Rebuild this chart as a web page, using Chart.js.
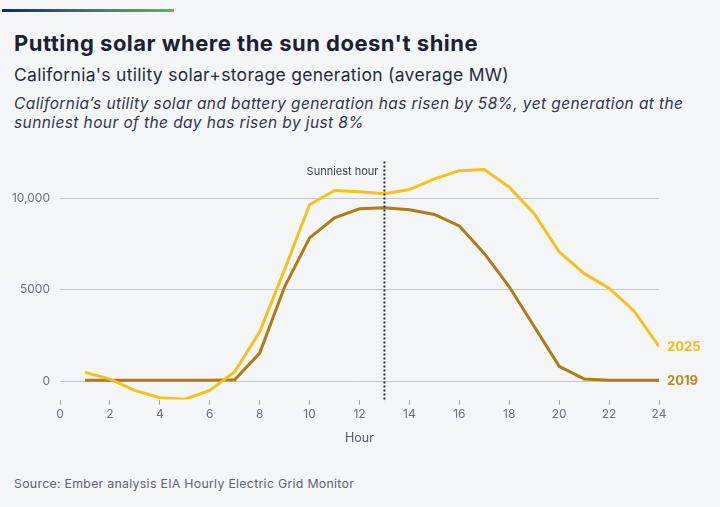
<!DOCTYPE html>
<html>
<head>
<meta charset="utf-8">
<script src="https://cdn.jsdelivr.net/npm/chart.js@4"></script>
<style>
  html, body { margin: 0; padding: 0; }
  body {
    width: 720px; height: 507px; overflow: hidden; position: relative;
    background: #f4f5f8; font-family: Inter, "Open Sans", sans-serif; color: #1c2132;
  }
  .topbar {
    position: absolute; left: 2px; top: 9px; width: 172px; height: 3px;
    background: linear-gradient(to right, #1b2a4e, #2f7d6a, #4dbd6c);
  }
  .title { position: absolute; left: 14px; top: 30px; font-size: 22px; font-weight: 700; letter-spacing: 0.5px; }
  .subtitle { position: absolute; left: 14px; top: 64px; font-size: 17.5px; letter-spacing: 0.3px; color: #262b3a; }
  .desc { position: absolute; left: 14px; top: 94px; font-size: 15.5px; font-style: italic; letter-spacing: 0.4px; line-height: 19px; color: #30354a; width: 690px; }
  .source { position: absolute; left: 14px; top: 476px; font-size: 12.3px; letter-spacing: 0.3px; color: #5c6274; }
  #chart { position: absolute; left: 0; top: 0; }
</style>
</head>
<body>
<div class="topbar"></div>
<div class="title">Putting solar where the sun doesn't shine</div>
<div class="subtitle">California's utility solar+storage generation (average MW)</div>
<div class="desc">California’s utility solar and battery generation has risen by 58%, yet generation at the sunniest hour of the day has risen by just 8%</div>
<div class="source">Source: Ember analysis EIA Hourly Electric Grid Monitor</div>
<canvas id="chart" width="720" height="507"></canvas>
<script>
var HOURS = [1, 2, 3, 4, 5, 6, 7, 8, 9, 10, 11, 12, 13, 14, 15, 16, 17, 18, 19, 20, 21, 22, 23, 24];
var GEN_2019 = [50, 60, 60, 60, 60, 60, 80, 1540, 5160, 7830, 8930, 9420, 9480, 9370, 9110, 8480, 6980, 5160, 2990, 815, 130, 60, 60, 60];
var GEN_2025 = [490, 120, -500, -900, -980, -500, 520, 2700, 6100, 9640, 10420, 10350, 10240, 10470, 11050, 11500, 11560, 10600, 9150, 7070, 5890, 5080, 3840, 1900];
var Y_TICKS = [0, 5000, 10000];
var SUNNIEST_HOUR = 13;

var YELLOW = '#f5c21a';
var BROWN = '#ad7c12';

function points(values) {
    return HOURS.map(function (h, i) { return { x: h, y: values[i] }; });
}

// end labels + sunniest hour marker
var extras = {
    id: 'extras',
    afterDatasetsDraw: function (chart) {
        var ctx = chart.ctx;
        var xs = chart.scales.x, ys = chart.scales.y;
        var area = chart.chartArea;
        var x = xs.getPixelForValue(SUNNIEST_HOUR);
        ctx.save();
        ctx.strokeStyle = '#2a2d38';
        ctx.lineWidth = 2;
        ctx.setLineDash([2, 2]);
        ctx.beginPath();
        ctx.moveTo(x, area.top);
        ctx.lineTo(x, area.bottom + 2);
        ctx.stroke();
        ctx.setLineDash([]);
        ctx.fillStyle = '#3a3e4a';
        ctx.font = '11px Inter, "Open Sans", sans-serif';
        ctx.textAlign = 'right';
        ctx.textBaseline = 'middle';
        ctx.fillText('Sunniest hour', x - 6, area.top + 10);

        ctx.font = 'bold 13px Inter, "Open Sans", sans-serif';
        ctx.textAlign = 'left';
        chart.data.datasets.forEach(function (ds) {
            var last = ds.data[ds.data.length - 1];
            ctx.fillStyle = ds.labelColor;
            ctx.fillText(ds.label, xs.getPixelForValue(last.x) + 8, ys.getPixelForValue(last.y) + 1);
        });
        ctx.restore();
    }
};

new Chart(document.getElementById('chart'), {
    type: 'line',
    data: {
        datasets: [{
            label: '2025',
            data: points(GEN_2025),
            borderColor: YELLOW,
            labelColor: '#eebd1c',
            borderWidth: 3,
            pointRadius: 0,
            tension: 0
        }, {
            label: '2019',
            data: points(GEN_2019),
            borderColor: BROWN,
            labelColor: '#b98a22',
            borderWidth: 3,
            pointRadius: 0,
            tension: 0
        }]
    },
    options: {
        responsive: false,
        animation: false,
        layout: { padding: { left: 0, right: 61, top: 161.5, bottom: 61 } },
        plugins: { legend: { display: false }, tooltip: { enabled: false } },
        scales: {
            x: {
                type: 'linear',
                min: 0,
                max: 24,
                border: { display: false },
                grid: { drawOnChartArea: false, tickLength: 5, color: '#9a9eaa', tickWidth: 1 },
                ticks: { stepSize: 2, color: '#6b7080', padding: 3, font: { family: 'Inter', size: 12 } },
                title: { display: true, text: 'Hour', color: '#555a6a', padding: { top: 6, bottom: 0 }, font: { family: 'Inter', size: 12.5 } }
            },
            y: {
                min: -1000,
                max: 12000,
                border: { display: false },
                afterFit: function (scale) { scale.width = 60; },
                afterBuildTicks: function (scale) {
                    scale.ticks = Y_TICKS.map(function (v) { return { value: v }; });
                },
                grid: { color: '#c3c6cf', lineWidth: 1, drawTicks: false },
                ticks: {
                    color: '#6b7080',
                    padding: 10,
                    font: { family: 'Inter', size: 12 },
                    callback: function (v) { return v === 10000 ? '10,000' : String(v); }
                }
            }
        }
    },
    plugins: [extras]
});
</script>
</body>
</html>
